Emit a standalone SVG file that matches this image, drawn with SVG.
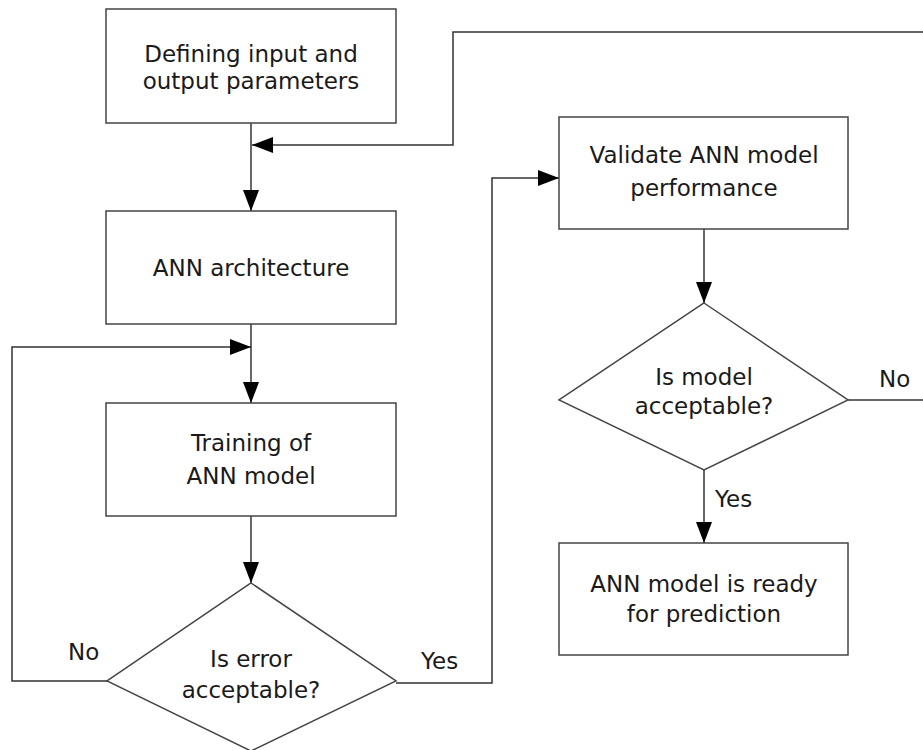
<svg xmlns="http://www.w3.org/2000/svg" width="923" height="750" viewBox="0 0 923 750">
<defs>
<marker id="ah" markerUnits="userSpaceOnUse" markerWidth="21" markerHeight="16" refX="21" refY="8" orient="auto">
<path d="M0,0 L21,8 L0,16 z" fill="#000"/>
</marker>
<style>
.box{fill:#fff;stroke:#444;stroke-width:1.5}
.ln{fill:none;stroke:#333;stroke-width:1.5}
.t{font-family:"DejaVu Sans",sans-serif;font-size:23px;fill:#1a1a1a;text-anchor:middle}
.lb{font-family:"DejaVu Sans",sans-serif;font-size:23px;fill:#1a1a1a}
</style>
</defs>
<rect width="923" height="750" fill="#fff"/>
<g id="connectors">
<path class="ln" d="M251,123 V211" marker-end="url(#ah)"/>
<path class="ln" d="M923,32 H453 V145 H252" marker-end="url(#ah)"/>
<path class="ln" d="M251,324 V403" marker-end="url(#ah)"/>
<path class="ln" d="M107,681 H12 V347 H251" marker-end="url(#ah)"/>
<path class="ln" d="M251,516 V583" marker-end="url(#ah)"/>
<path class="ln" d="M396,683 H492 V178 H559" marker-end="url(#ah)"/>
<path class="ln" d="M704,229 V303" marker-end="url(#ah)"/>
<path class="ln" d="M704,470 V543" marker-end="url(#ah)"/>
<path class="ln" d="M848,400 H923"/>
<text class="lb" x="68" y="660">No</text>
<text class="lb" x="421" y="669">Yes</text>
<text class="lb" x="879" y="387">No</text>
<text class="lb" x="715" y="507">Yes</text>
</g>
<g id="n1">
<rect class="box" x="106" y="9" width="290" height="114"/>
<text class="t" x="251" y="62">Defining input and</text>
<text class="t" x="251" y="89">output parameters</text>
</g>
<g id="n2">
<rect class="box" x="106" y="211" width="290" height="113"/>
<text class="t" x="251" y="276">ANN architecture</text>
</g>
<g id="n3">
<rect class="box" x="106" y="403" width="290" height="113"/>
<text class="t" x="251" y="451">Training of</text>
<text class="t" x="251" y="484">ANN model</text>
</g>
<g id="n4">
<polygon class="box" points="251,583 396,681 251,751 107,681"/>
<text class="t" x="251" y="667">Is error</text>
<text class="t" x="251" y="698">acceptable?</text>
</g>
<g id="n5">
<rect class="box" x="559" y="117" width="289" height="112"/>
<text class="t" x="704" y="163">Validate ANN model</text>
<text class="t" x="704" y="196">performance</text>
</g>
<g id="n6">
<polygon class="box" points="704,303 848,400 704,470 559,400"/>
<text class="t" x="704" y="385">Is model</text>
<text class="t" x="704" y="414">acceptable?</text>
</g>
<g id="n7">
<rect class="box" x="559" y="543" width="289" height="112"/>
<text class="t" x="704" y="592">ANN model is ready</text>
<text class="t" x="704" y="622">for prediction</text>
</g>
</svg>
